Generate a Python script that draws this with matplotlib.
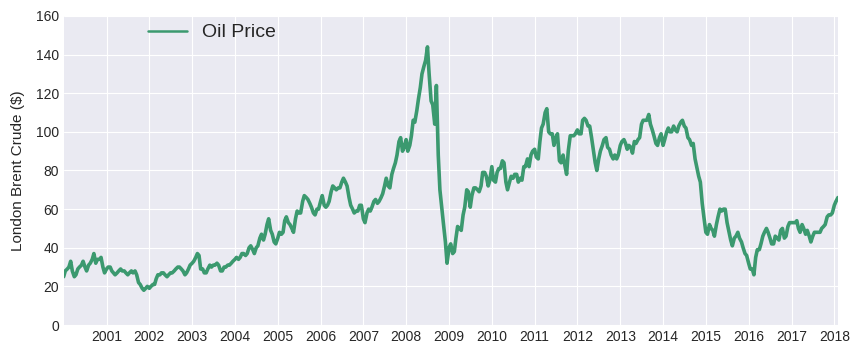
import pandas as pd
import matplotlib
matplotlib.use("Agg")
import matplotlib.pyplot as plt
import matplotlib.dates as mdates

# half-monthly readings of the oil price curve (USD), 2000-01 .. 2018-02
price = [
    # 2000
    25, 28, 29, 30, 33, 28, 25, 26, 29, 30, 31, 33, 30, 28, 31, 32, 34, 37, 32, 34, 34, 35, 30, 27,
    # 2001
    29, 30, 30, 28, 27, 26, 27, 28, 29, 28, 28, 27, 26, 27, 28, 27, 28, 26, 22, 21, 19, 18, 19, 20,
    # 2002
    19, 20, 21, 21, 24, 26, 26, 27, 27, 26, 25, 26, 27, 27, 28, 29, 30, 30, 29, 28, 26, 27, 29, 31,
    # 2003
    32, 33, 35, 37, 36, 29, 29, 27, 27, 29, 31, 30, 31, 31, 32, 31, 28, 28, 30, 30, 31, 31, 32, 33,
    # 2004
    34, 35, 34, 35, 37, 37, 36, 37, 40, 41, 39, 37, 40, 41, 45, 47, 44, 47, 52, 55, 49, 47, 43, 42,
    # 2005
    45, 48, 47, 48, 54, 56, 53, 52, 50, 48, 55, 59, 58, 58, 64, 67, 66, 65, 63, 61, 58, 57, 60, 60,
    # 2006
    64, 67, 62, 61, 62, 64, 69, 72, 71, 70, 71, 71, 74, 76, 74, 72, 66, 62, 60, 58, 59, 59, 62, 62,
    # 2007
    55, 53, 58, 60, 59, 61, 64, 65, 63, 64, 66, 68, 72, 76, 72, 71, 78, 81, 84, 88, 95, 97, 90, 92,
    # 2008
    96, 90, 93, 98, 106, 105, 111, 117, 123, 130, 134, 137, 144, 130, 116, 114, 104, 124, 88, 70, 60, 52, 43, 32,
    # 2009
    40, 42, 37, 38, 45, 51, 50, 49, 57, 61, 70, 69, 61, 67, 71, 71, 70, 69, 72, 79, 79, 77, 72, 75,
    # 2010
    82, 75, 74, 79, 81, 81, 85, 84, 74, 70, 74, 77, 76, 78, 78, 74, 76, 75, 82, 82, 86, 82, 88, 90,
    # 2011
    91, 87, 86, 95, 102, 104, 110, 112, 100, 99, 99, 93, 97, 99, 85, 84, 88, 83, 78, 90, 98, 98, 98, 99,
    # 2012
    101, 99, 99, 106, 107, 106, 103, 103, 97, 91, 84, 80, 86, 90, 93, 96, 97, 92, 91, 88, 86, 88, 86, 88,
    # 2013
    93, 95, 96, 94, 91, 93, 92, 89, 95, 94, 96, 97, 104, 106, 106, 106, 109, 104, 101, 98, 94, 93, 97, 99,
    # 2014
    93, 96, 100, 102, 100, 100, 103, 101, 100, 103, 105, 106, 103, 102, 97, 96, 93, 94, 86, 82, 77, 74, 63, 56,
    # 2015
    48, 47, 52, 50, 49, 46, 52, 56, 60, 59, 60, 60, 53, 49, 44, 41, 45, 46, 48, 45, 43, 40, 37, 36,
    # 2016
    32, 29, 29, 26, 35, 39, 39, 42, 46, 48, 50, 48, 45, 42, 42, 46, 45, 44, 49, 50, 45, 46, 51, 53,
    # 2017
    53, 53, 53, 54, 50, 48, 52, 50, 47, 49, 46, 43, 46, 48, 48, 48, 48, 50, 51, 52, 56, 57, 57, 58,
    # 2018
    62, 64, 66,
]
dates = pd.date_range("2000-01-01", periods=len(price), freq="SMS")

plt.style.use("seaborn-v0_8-darkgrid")
plt.rcParams["font.family"] = ["Liberation Sans", "DejaVu Sans"]

fig = plt.figure(figsize=(8.59, 3.6), dpi=100)
ax = fig.add_axes([0.0745, 0.0972, 0.901, 0.8584])

ax.plot(dates, price, color="#3b996f", lw=2.6, label="Oil Price")

ax.set_ylim(0, 160)
ax.set_yticks(range(0, 161, 20))
ax.set_xlim(pd.Timestamp("2000-01-04"), dates[-1])
ax.xaxis.set_major_locator(mdates.YearLocator())
ax.xaxis.set_major_formatter(mdates.DateFormatter("%Y"))
ax.tick_params(labelsize=10, colors="#262626")
ax.set_ylabel("London Brent Crude ($)", fontsize=11, color="#262626", labelpad=7.5)

leg = ax.legend(loc="upper left", bbox_to_anchor=(0.1085, 0.975), borderaxespad=0,
                borderpad=0, frameon=False, fontsize=14, handlelength=2.0, handletextpad=0.8)
leg.get_lines()[0].set_linewidth(1.8)

fig.savefig("out.png", dpi=100)
